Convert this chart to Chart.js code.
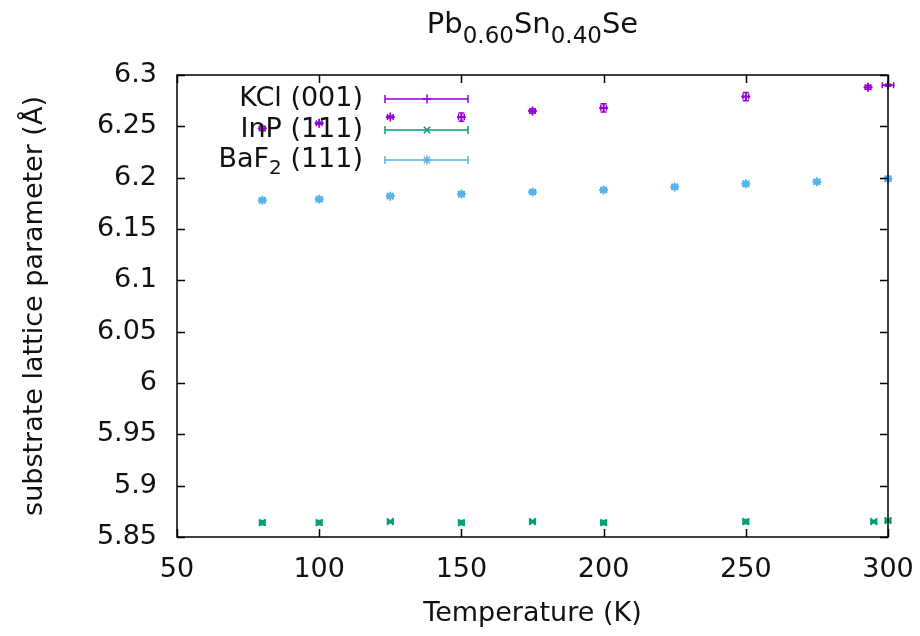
<!DOCTYPE html>
<html>
<head>
<meta charset="utf-8">
<script src="https://cdn.jsdelivr.net/npm/chart.js@4.4.1/dist/chart.umd.min.js"></script>
<style>
  html, body { margin: 0; padding: 0; background: #fff; }
  canvas { display: block; }
</style>
</head>
<body>
<canvas id="chart" width="920" height="636"></canvas>
<script>
// axis ticks
const xTicks = [50, 100, 150, 200, 250, 300];
const xTickLabels = ['50', '100', '150', '200', '250', '300'];
const yTicks = [5.85, 5.9, 5.95, 6.0, 6.05, 6.1, 6.15, 6.2, 6.25, 6.3];
const yTickLabels = ['5.85', '5.9', '5.95', '6', '6.05', '6.1', '6.15', '6.2', '6.25', '6.3'];

// KCl (001)
const kclT = [80, 100, 125, 150, 175, 200, 250, 293, 300];
const kclA = [6.248, 6.253, 6.259, 6.259, 6.265, 6.268, 6.279, 6.288, 6.290];
const kclErr = [0.002, 0.001, 0.001, 0.004, 0.002, 0.004, 0.004, 0.002, 0.001];
const kclTErr = [1, 1, 1, 1, 1, 1, 1, 1, 2];

// InP (111)
const inpT = [80, 100, 125, 150, 175, 200, 250, 295, 300];
const inpA = [5.864, 5.864, 5.865, 5.864, 5.865, 5.864, 5.865, 5.865, 5.866];
const inpErr = [0.002, 0.002, 0.001, 0.002, 0.001, 0.002, 0.002, 0.001, 0.001];
const inpTErr = [1, 1, 1, 1, 1, 1, 1, 1, 1];

// BaF2 (111)
const bafT = [80, 100, 125, 150, 175, 200, 225, 250, 275, 300];
const bafA = [6.178, 6.179, 6.182, 6.184, 6.186, 6.188, 6.191, 6.194, 6.196, 6.199];
const bafErr = [0.002, 0.002, 0.001, 0.002, 0.002, 0.002, 0.002, 0.002, 0.002, 0.002];
const bafTErr = [1, 1, 1, 1, 1, 1, 1, 1, 1, 1];

const FONT = '"DejaVu Sans", sans-serif';
const SIZE = 27, SUB = 20;
const purple = '#9400d3', green = '#009e73', blue = '#56b4e9';

function pts(xs, ys, xe, ye) {
  return xs.map((x, i) => ({ x, y: ys[i], xErr: xe[i], yErr: ye[i] }));
}

// gnuplot-like xy error bars, placed through the chart's scales
const errorBars = {
  id: 'errorBars',
  afterDatasetsDraw(chart) {
    const ctx = chart.ctx, xs = chart.scales.x, ys = chart.scales.y;
    chart.data.datasets.forEach(ds => {
      ctx.save();
      ctx.strokeStyle = ds.borderColor;
      ctx.lineWidth = 1.5;
      ds.data.forEach(p => {
        const px = xs.getPixelForValue(p.x), py = ys.getPixelForValue(p.y);
        const y0 = ys.getPixelForValue(p.y - p.yErr), y1 = ys.getPixelForValue(p.y + p.yErr);
        const x0 = xs.getPixelForValue(p.x - p.xErr), x1 = xs.getPixelForValue(p.x + p.xErr);
        ctx.beginPath();
        ctx.moveTo(px, y0); ctx.lineTo(px, y1);
        ctx.moveTo(px - 3, y0); ctx.lineTo(px + 3, y0);
        ctx.moveTo(px - 3, y1); ctx.lineTo(px + 3, y1);
        ctx.moveTo(x0, py); ctx.lineTo(x1, py);
        ctx.moveTo(x0, py - 3); ctx.lineTo(x0, py + 3);
        ctx.moveTo(x1, py - 3); ctx.lineTo(x1, py + 3);
        ctx.stroke();
      });
      ctx.restore();
    });
  }
};

// border box with inward ticks on all four sides
const frame = {
  id: 'frame',
  afterDraw(chart) {
    const { ctx, chartArea: a } = chart;
    const xs = chart.scales.x, ys = chart.scales.y;
    ctx.save();
    ctx.strokeStyle = '#000';
    ctx.lineWidth = 1.5;
    ctx.strokeRect(a.left, a.top, a.right - a.left, a.bottom - a.top);
    ctx.beginPath();
    xTicks.forEach(v => {
      const px = Math.round(xs.getPixelForValue(v)) + 0.5;
      ctx.moveTo(px, a.bottom); ctx.lineTo(px, a.bottom - 8);
      ctx.moveTo(px, a.top); ctx.lineTo(px, a.top + 8);
    });
    yTicks.forEach(v => {
      const py = Math.round(ys.getPixelForValue(v)) + 0.5;
      ctx.moveTo(a.left, py); ctx.lineTo(a.left + 8, py);
      ctx.moveTo(a.right, py); ctx.lineTo(a.right - 8, py);
    });
    ctx.stroke();
    ctx.restore();
  }
};

// text made of [text, isSubscript] runs
function runsWidth(ctx, runs, big, small) {
  let w = 0;
  runs.forEach(([t, sub]) => { ctx.font = (sub ? small : big) + 'px ' + FONT; w += ctx.measureText(t).width; });
  return w;
}
function drawRuns(ctx, runs, x, y, big, small, drop) {
  runs.forEach(([t, sub]) => {
    ctx.font = (sub ? small : big) + 'px ' + FONT;
    ctx.fillText(t, x, sub ? y + drop : y);
    x += ctx.measureText(t).width;
  });
}

const titleRuns = [['Pb', 0], ['0.60', 1], ['Sn', 0], ['0.40', 1], ['Se', 0]];

const header = {
  id: 'header',
  afterDraw(chart) {
    const { ctx, chartArea: a } = chart;
    ctx.save();
    ctx.fillStyle = '#111';
    ctx.textBaseline = 'alphabetic';
    const w = runsWidth(ctx, titleRuns, 29, 23);
    drawRuns(ctx, titleRuns, (a.left + a.right) / 2 - w / 2, 33, 29, 23, 10);
    ctx.restore();
  }
};

const legendRows = [
  { runs: [['KCl (001)', 0]], color: purple, style: 'cross', y: 99 },
  { runs: [['InP (111)', 0]], color: green, style: 'crossRot', y: 130 },
  { runs: [['BaF', 0], ['2', 1], [' (111)', 0]], color: blue, style: 'star', y: 160 }
];

const keyBox = {
  id: 'keyBox',
  afterDraw(chart) {
    const ctx = chart.ctx;
    ctx.save();
    legendRows.forEach(r => {
      ctx.fillStyle = '#111';
      ctx.textBaseline = 'middle';
      const w = runsWidth(ctx, r.runs, SIZE, SUB);
      drawRuns(ctx, r.runs, 363 - w, r.y, SIZE, SUB, 9);
      ctx.strokeStyle = r.color;
      ctx.lineWidth = 1.5;
      ctx.beginPath();
      ctx.moveTo(385, r.y); ctx.lineTo(468, r.y);
      ctx.moveTo(385, r.y - 4); ctx.lineTo(385, r.y + 4);
      ctx.moveTo(468, r.y - 4); ctx.lineTo(468, r.y + 4);
      ctx.stroke();
      Chart.helpers.drawPoint(ctx, { pointStyle: r.style, radius: 4.5, borderWidth: 1.5 }, 427, r.y);
    });
    ctx.restore();
  }
};

const dsBase = { showLine: false, pointRadius: 4.5, pointHoverRadius: 4.5, borderWidth: 1.8, clip: false };

new Chart(document.getElementById('chart'), {
  type: 'scatter',
  data: {
    datasets: [
      { ...dsBase, label: 'KCl (001)', data: pts(kclT, kclA, kclTErr, kclErr), pointStyle: 'cross', borderColor: purple, backgroundColor: purple },
      { ...dsBase, label: 'InP (111)', data: pts(inpT, inpA, inpTErr, inpErr), pointStyle: 'crossRot', borderColor: green, backgroundColor: green },
      { ...dsBase, label: 'BaF2 (111)', data: pts(bafT, bafA, bafTErr, bafErr), pointStyle: 'star', borderColor: blue, backgroundColor: blue }
    ]
  },
  options: {
    responsive: false,
    animation: false,
    events: [],
    layout: { padding: { top: 75, right: 32, left: 0, bottom: 0 } },
    plugins: { legend: { display: false }, title: { display: false }, tooltip: { enabled: false } },
    scales: {
      x: {
        type: 'linear', min: 50, max: 300,
        afterBuildTicks: s => { s.ticks = xTicks.map(v => ({ value: v })); },
        afterFit: s => { s.height = 99; s.paddingLeft = 0; s.paddingRight = 0; },
        grid: { display: false, drawTicks: false },
        border: { display: false },
        ticks: {
          padding: 17, color: '#111', font: { family: FONT, size: SIZE }, maxRotation: 0,
          callback: v => xTickLabels[xTicks.indexOf(v)]
        },
        title: { display: true, text: 'Temperature (K)', color: '#111', font: { family: FONT, size: SIZE }, padding: { top: 0, bottom: 6 } }
      },
      y: {
        type: 'linear', min: 5.85, max: 6.3,
        afterBuildTicks: s => { s.ticks = yTicks.map(v => ({ value: v })); },
        afterFit: s => { s.width = 177; s.paddingTop = 0; s.paddingBottom = 0; },
        grid: { display: false, drawTicks: false },
        border: { display: false },
        ticks: {
          padding: 20, color: '#111', font: { family: FONT, size: SIZE },
          callback: v => yTickLabels[yTicks.findIndex(t => Math.abs(t - v) < 1e-9)]
        },
        title: { display: true, text: 'substrate lattice parameter (Å)', color: '#111', font: { family: FONT, size: SIZE }, padding: { top: 19, bottom: 0 } }
      }
    }
  },
  plugins: [errorBars, frame, header, keyBox]
});
</script>
</body>
</html>
